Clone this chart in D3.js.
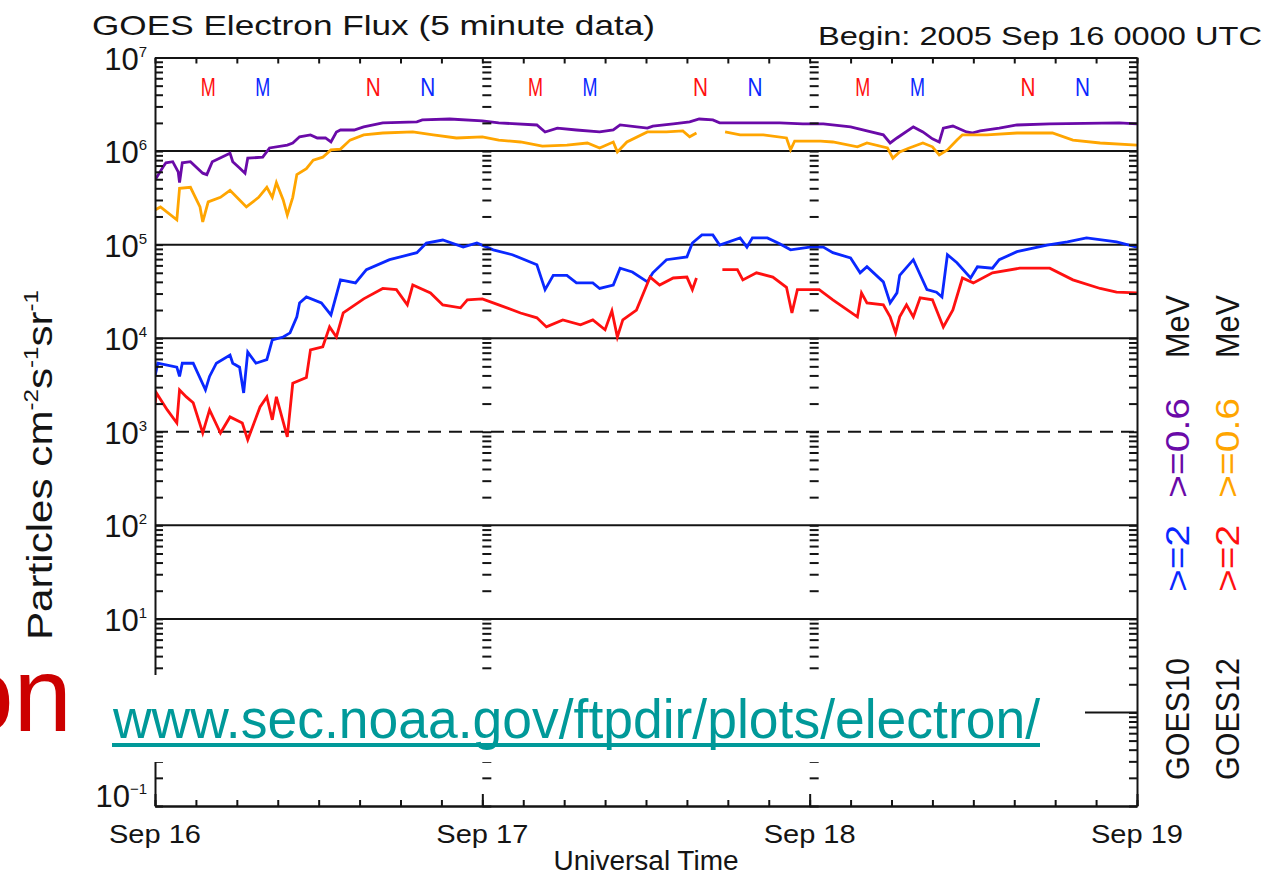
<!DOCTYPE html>
<html><head><meta charset="utf-8">
<script src="https://cdn.jsdelivr.net/npm/d3@7"></script>
<style>
body{margin:0;background:#fff}
svg{display:block}
text{font-family:"Liberation Sans",Arial,sans-serif}
</style>
</head><body>
<svg id="c" width="1278" height="876"></svg>
<script>
// ---------- DATA (hours since 2005 Sep 16 00:00 UTC, flux in particles cm^-2 s^-1 sr^-1) ----------
const g10LowT = [0,0.6,0.8,1.3,1.7,1.8,2.0,2.6,3.5,3.8,4.2,5.5,5.7,6.2,6.6,6.8,7.9,8.4,9.7,10.1,10.6,11.4,11.9,12.5,12.9,13.3,13.6,14.6,15.3,16.7,19.2,19.6,21.6,24.0,25.2,28.0,28.6,29.5,30.9,32.6,33.6,34.1,36.1,36.5,38.0,39.2,39.9,40.9,41.4,43.4,45.8,47.5,49.0,51.0,52.2,53.4,53.9,54.4,55.6,56.3,57.0,57.5,57.8,58.5,59.5,59.9,60.5,61.9,63.2,65.6,70.7,72];
const g10LowV = [4.9e5,6.8e5,7.5e5,7.7e5,6.0e5,4.6e5,7.5e5,7.7e5,5.8e5,5.6e5,7.7e5,9.5e5,7.7e5,6.6e5,5.8e5,8.4e5,8.6e5,1.08e6,1.16e6,1.22e6,1.42e6,1.49e6,1.38e6,1.38e6,1.25e6,1.6e6,1.68e6,1.68e6,1.81e6,2.0e6,2.05e6,2.15e6,2.2e6,2.1e6,2.0e6,1.9e6,1.6e6,1.76e6,1.68e6,1.6e6,1.68e6,1.9e6,1.76e6,1.85e6,1.95e6,2.05e6,2.2e6,2.15e6,2.0e6,2.0e6,2.0e6,1.95e6,1.95e6,1.81e6,1.64e6,1.49e6,1.22e6,1.38e6,1.81e6,1.6e6,1.35e6,1.25e6,1.76e6,1.85e6,1.6e6,1.56e6,1.64e6,1.76e6,1.9e6,1.95e6,2.0e6,1.95e6];

const g12LowT = [0,0.4,1.6,1.8,2.6,3.3,3.5,3.9,4.8,5.5,6.2,6.7,7.6,8.2,8.6,8.9,9.4,9.7,10.1,10.4,11.1,11.6,12.3,12.9,13.6,14.3,15.3,16.7,18.9,20.4,22.1,24.0,25.2,26.8,28.4,30.2,31.7,32.6,33.6,33.9,34.6,36.1,37.5,38.7,39.2,39.7,40.5,41.8,42.9,44.6,46.3,46.6,46.9,48.8,49.7,51.5,52.2,53.7,54.1,54.6,55.3,56.3,57.0,57.5,58.1,58.8,59.2,61.0,63.2,65.8,67.3,69.3,72];
const g12LowV = [2.35e5,2.53e5,1.84e5,4.0e5,4.1e5,2.53e5,1.75e5,2.86e5,3.2e5,3.8e5,3.0e5,2.53e5,3.2e5,4.1e5,3.2e5,4.6e5,3.0e5,2.07e5,3.2e5,5.6e5,6.5e5,8.0e5,8.6e5,1.03e6,1.05e6,1.31e6,1.49e6,1.56e6,1.6e6,1.49e6,1.38e6,1.42e6,1.31e6,1.25e6,1.13e6,1.16e6,1.22e6,1.08e6,1.25e6,9.8e5,1.25e6,1.6e6,1.6e6,1.64e6,1.42e6,1.56e6,null,1.6e6,1.49e6,1.49e6,1.38e6,1.03e6,1.28e6,1.28e6,1.25e6,1.11e6,1.22e6,1.08e6,8.4e5,9.8e5,1.08e6,1.22e6,1.11e6,9.1e5,1.03e6,1.31e6,1.49e6,1.49e6,1.56e6,1.56e6,1.31e6,1.22e6,1.16e6];

const g10HighT = [0,0.2,1.6,1.8,2.0,2.8,3.7,4.0,4.5,5.5,5.7,6.2,6.5,6.8,7.4,8.2,8.6,9.4,9.9,10.4,10.6,11.1,12.2,12.9,13.6,14.7,15.5,17.2,19.2,19.9,21.1,22.6,23.6,24.8,26.2,28.0,28.6,29.2,30.2,30.9,32.1,32.6,33.6,34.1,35.0,36.1,36.5,37.5,39.0,39.4,40.1,40.9,41.4,42.9,43.4,43.8,44.9,45.8,46.6,48.0,49.0,49.7,51.0,51.7,52.2,53.4,53.9,54.4,54.6,55.6,56.6,57.3,57.7,58.1,58.8,59.8,60.3,61.4,61.9,63.2,65.4,66.9,68.3,70.5,72];
const g10HighV = [3.9e3,5.4e3,4.9e3,3.9e3,5.4e3,5.4e3,2.8e3,3.9e3,5.4e3,6.6e3,5.4e3,4.9e3,2.6e3,7.1e3,5.4e3,5.9e3,9.6e3,1.03e4,1.14e4,1.69e4,2.38e4,2.76e4,2.38e4,1.77e4,4.2e4,3.9e4,5.4e4,6.9e4,8.2e4,1.04e5,1.12e5,9.4e4,1.04e5,8.8e4,7.8e4,6.1e4,3.3e4,4.7e4,4.7e4,3.9e4,3.9e4,3.4e4,3.7e4,5.6e4,5.1e4,4.0e4,5.0e4,6.9e4,7.4e4,1.04e5,1.27e5,1.27e5,9.9e4,1.18e5,9.4e4,1.18e5,1.18e5,1.02e5,8.8e4,9.4e4,9.4e4,8.2e4,7.2e4,5.0e4,5.8e4,4.0e4,2.38e4,3.05e4,4.7e4,6.9e4,3.3e4,3.1e4,2.76e4,7.8e4,6.4e4,4.4e4,5.8e4,5.6e4,6.9e4,8.4e4,9.9e4,1.07e5,1.18e5,1.07e5,9.4e4];

const g12HighT = [0,0.1,0.9,1.6,1.8,2.3,2.8,3.5,4.0,4.8,5.5,6.4,6.8,7.7,8.2,8.6,8.9,9.7,10.1,11.1,11.4,12.3,12.8,13.3,13.8,15.3,16.7,17.7,18.5,18.9,20.2,21.1,22.4,22.9,24.0,25.2,26.8,28.0,28.7,29.9,31.2,32.1,33.0,33.5,33.9,34.3,35.3,36.3,37.0,38.0,39.0,39.4,39.7,40.5,41.6,42.7,43.1,44.1,45.3,46.3,46.7,47.1,48.7,49.7,51.5,51.8,52.2,53.4,53.9,54.3,54.6,55.1,55.6,56.1,57.0,57.8,58.5,59.2,60.0,61.4,63.4,65.6,67.3,69.3,70.5,72];
const g12HighV = [1.94e3,2.6e3,1.71e3,1.24e3,2.8e3,2.36e3,2.04e3,9.7e2,1.71e3,9.7e2,1.44e3,1.24e3,8.2e2,1.84e3,2.36e3,1.34e3,2.36e3,8.8e2,3.3e3,3.8e3,7.5e3,8.1e3,1.32e4,1.03e4,1.86e4,2.63e4,3.4e4,3.3e4,2.27e4,3.7e4,3.05e4,2.27e4,2.11e4,2.57e4,2.63e4,2.27e4,1.86e4,1.65e4,1.32e4,1.57e4,1.39e4,1.57e4,1.23e4,1.96e4,1.03e4,1.57e4,2.0e4,4.5e4,3.7e4,4.4e4,4.5e4,3.3e4,4.4e4,null,5.4e4,5.4e4,4.2e4,5.0e4,4.5e4,3.5e4,1.86e4,3.3e4,3.3e4,2.57e4,1.69e4,3.05e4,2.38e4,2.27e4,1.69e4,1.14e4,1.69e4,2.27e4,1.69e4,2.7e4,2.57e4,1.32e4,2.0e4,4.4e4,3.9e4,5.0e4,5.6e4,5.6e4,4.2e4,3.4e4,3.1e4,3.05e4];

// local midnight (M) / noon (N) markers for GOES12 (red) and GOES10 (blue)
const markerHours  = [3.9, 7.9, 16.0, 20.0, 27.9, 31.9, 40.0, 44.0, 51.9, 55.9, 64.0, 68.0];
const markerLabels = ["M","M","N","N","M","M","N","N","M","M","N","N"];
const markerSats   = ["G12","G10","G12","G10","G12","G10","G12","G10","G12","G10","G12","G10"];

// 10^0 label is hidden under the slide's text box in the reference, so it is not listed
const yLabelExponents = [-1,1,2,3,4,5,6,7];
const gridExponents   = [0,1,2,3,4,5,6];
const dashedGridExp   = 3;
const dayLabels  = ["Sep 16","Sep 17","Sep 18","Sep 19"];
const titleText  = "GOES Electron Flux (5 minute data)";
const beginText  = "Begin: 2005 Sep 16 0000 UTC";
const xTitle     = "Universal Time";
const linkText   = "www.sec.noaa.gov/ftpdir/plots/electron/";

// ---------- SETUP ----------
const C = {g10Low:"#6a0aa8", g12Low:"#ffa500", g10High:"#0a28ff", g12High:"#ff1010", G10:"#0a28ff", G12:"#ff1010"};
const svg = d3.select("#c");
const t0 = Date.UTC(2005,8,16);
const HR = 3600e3;
const toDate = h => new Date(t0 + h*HR);
const x = d3.scaleUtc().domain([toDate(0), toDate(72)]).range([155,1137]);
const y = d3.scaleLog().domain([0.1,1e7]).range([806,57.5]);
const L = x.range()[0], R = x.range()[1], T = y.range()[1], B = y.range()[0];
const ink = "#141414";

// gridlines
svg.append("g").selectAll("line").data(gridExponents).join("line")
  .attr("x1",L).attr("x2",R).attr("y1",d=>y(10**d)).attr("y2",d=>y(10**d))
  .attr("stroke",ink).attr("stroke-width",2)
  .attr("stroke-dasharray",d=>d===dashedGridExp?"13,8":null);

// data lines
const line = d3.line().defined(d=>d[1]!=null).x(d=>x(toDate(d[0]))).y(d=>y(d[1]));
const series = [
  [g10LowT,g10LowV,C.g10Low],[g12LowT,g12LowV,C.g12Low],
  [g10HighT,g10HighV,C.g10High],[g12HighT,g12HighV,C.g12High]
];
svg.append("clipPath").attr("id","pc").append("rect")
  .attr("x",L).attr("y",T).attr("width",R-L).attr("height",B-T);
series.forEach(([t,v,col])=>{
  svg.append("path").attr("clip-path","url(#pc)")
    .attr("d",line(d3.zip(t,v)))
    .attr("fill","none").attr("stroke",col).attr("stroke-width",2.8)
    .attr("stroke-linejoin","miter");
});

// axes ticks
function styleAxis(g){ g.selectAll("line,path").attr("stroke",ink).attr("stroke-width",2); g.selectAll("text").remove(); }
svg.append("g").attr("transform",`translate(${L},0)`)
  .call(d3.axisRight(y).tickSize(8).tickSizeOuter(0).tickFormat("")).call(styleAxis);
svg.append("g").attr("transform",`translate(${R},0)`)
  .call(d3.axisLeft(y).tickSize(8).tickSizeOuter(0).tickFormat("")).call(styleAxis);
[1,2].forEach(dd=>{
  const g = svg.append("g").attr("transform",`translate(${x(toDate(24*dd))},0)`)
    .call(d3.axisRight(y).tickSize(9).tickSizeOuter(0).tickFormat("")).call(styleAxis);
  g.select(".domain").remove();
});
const threeHr = d3.range(0,73,3).map(toDate);
const days = d3.range(0,73,24).map(toDate);
svg.append("g").attr("transform",`translate(0,${B})`)
  .call(d3.axisTop(x).tickValues(threeHr).tickSize(6).tickSizeOuter(0).tickFormat("")).call(styleAxis);
svg.append("g").attr("transform",`translate(0,${B})`)
  .call(d3.axisTop(x).tickValues(days).tickSize(12).tickSizeOuter(0).tickFormat("")).call(styleAxis);
svg.append("g").attr("transform",`translate(0,${T})`)
  .call(d3.axisBottom(x).tickValues(threeHr).tickSize(6).tickSizeOuter(0).tickFormat("")).call(styleAxis);

// y tick labels
yLabelExponents.forEach(k=>{
  const t = svg.append("text").attr("x",L-8).attr("y",Math.min(y(10**k)+12, B+1))
    .attr("text-anchor","end").attr("font-size",31).attr("fill",ink);
  t.append("tspan").text("10");
  t.append("tspan").attr("dy",-13).attr("font-size",15).text(k<0?"−"+(-k):String(k));
});

// x tick labels
days.forEach((d,i)=>{
  svg.append("text").attr("x",x(d)).attr("y",843).attr("text-anchor","middle")
    .attr("font-size",26).attr("fill",ink).attr("textLength",92).attr("lengthAdjust","spacingAndGlyphs")
    .text(dayLabels[i]);
});
svg.append("text").attr("x",(L+R)/2).attr("y",870).attr("text-anchor","middle")
  .attr("font-size",27).attr("fill",ink).attr("textLength",185).attr("lengthAdjust","spacingAndGlyphs").text(xTitle);

// titles
svg.append("text").attr("x",92).attr("y",35).attr("font-size",28).attr("fill",ink)
  .attr("textLength",563).attr("lengthAdjust","spacingAndGlyphs").text(titleText);
svg.append("text").attr("x",818).attr("y",45).attr("font-size",26).attr("fill",ink)
  .attr("textLength",444).attr("lengthAdjust","spacingAndGlyphs").text(beginText);

// M / N markers
markerHours.forEach((h,i)=>{
  svg.append("text").attr("x",x(toDate(h))).attr("y",96).attr("text-anchor","middle")
    .attr("font-size",25).attr("fill",C[markerSats[i]])
    .attr("textLength",15).attr("lengthAdjust","spacingAndGlyphs").text(markerLabels[i]);
});

// y-axis title
const yt = svg.append("text").attr("transform","translate(52,640) rotate(-90)")
  .attr("font-size",35).attr("fill",ink).attr("textLength",350).attr("lengthAdjust","spacingAndGlyphs");
yt.append("tspan").text("Particles cm");
yt.append("tspan").attr("dy",-14).attr("font-size",20).text("-2");
yt.append("tspan").attr("dy",14).text("s");
yt.append("tspan").attr("dy",-14).attr("font-size",20).text("-1");
yt.append("tspan").attr("dy",14).text("sr");
yt.append("tspan").attr("dy",-14).attr("font-size",20).text("-1");

// right legend (rotated)
const legendCols = [
  {x:1189, items:[["GOES10",ink,780,122],[">=2",C.G10,592,67],[">=0.6",C.g10Low,498,100],["MeV",ink,358,63]]},
  {x:1239, items:[["GOES12",ink,780,122],[">=2",C.G12,592,67],[">=0.6",C.g12Low,498,100],["MeV",ink,358,63]]}
];
legendCols.forEach(col=>{
  col.items.forEach(([s,c,y0,len])=>{
    svg.append("text").attr("transform",`translate(${col.x},${y0}) rotate(-90)`)
      .attr("font-size",33).attr("fill",c).attr("textLength",len).attr("lengthAdjust","spacingAndGlyphs").text(s);
  });
});

// overlay box with slide text
svg.append("rect").attr("x",0).attr("y",675).attr("width",1085).attr("height",87).attr("fill","#fff");
svg.append("text").attr("x",72).attr("y",731).attr("text-anchor","end")
  .attr("font-size",105).attr("fill","#cc0000").text("on");
svg.append("text").attr("x",113).attr("y",738).attr("font-size",56).attr("fill","#009999")
  .attr("textLength",927).attr("lengthAdjust","spacingAndGlyphs").text(linkText);
svg.append("rect").attr("x",112).attr("y",743).attr("width",928).attr("height",4).attr("fill","#009999");
</script>
</body></html>
